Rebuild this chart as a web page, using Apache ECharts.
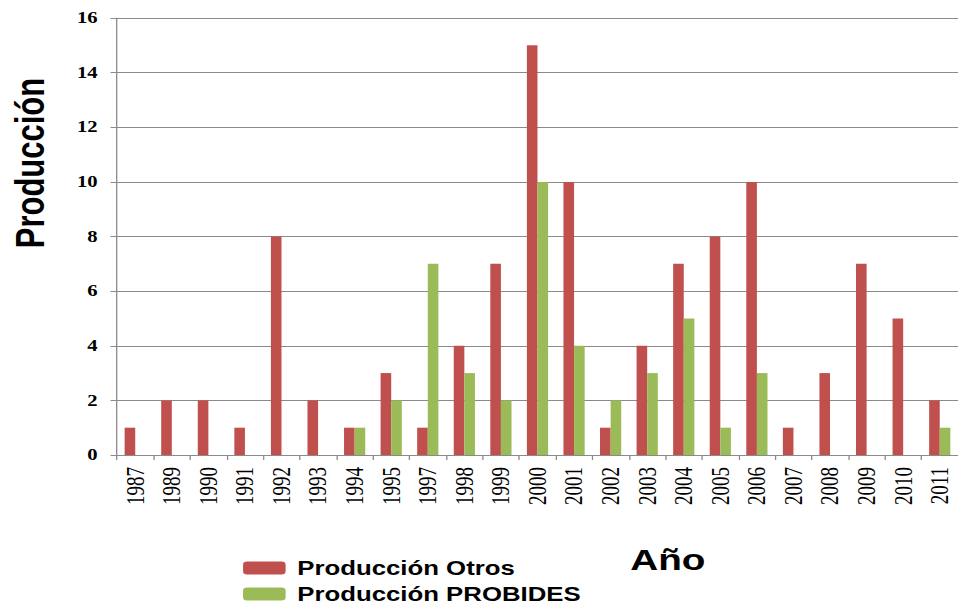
<!DOCTYPE html>
<html><head><meta charset="utf-8">
<script src="https://cdn.jsdelivr.net/npm/echarts@6/dist/echarts.min.js"></script>
<style>
html,body{margin:0;padding:0;background:#fff;overflow:hidden}
#wrap{width:958px;height:606px;overflow:hidden}
#c{width:743px;height:606px;transform:scaleX(1.2894);transform-origin:0 0}
</style></head><body><div id="wrap"><div id="c"></div></div>
<script>
const categories = ['1987','1989','1990','1991','1992','1993','1994','1995','1997','1998','1999','2000','2001','2002','2003','2004','2005','2006','2007','2008','2009','2010','2011'];
const otros    = [1,2,2,1,8,2,1,3,1,4,7,15,10,1,4,7,8,10,1,3,7,5,2];
const probides = [0,0,0,0,0,0,1,2,7,3,2,10,4,2,3,5,1,3,0,0,0,0,1];
const seriesNames = ['Producción Otros','Producción PROBIDES'];
const yMin = 0, yMax = 16, yStep = 2;

const chart = echarts.init(document.getElementById('c'), null, {renderer:'svg'});
const grey = '#8a8a8a';
chart.setOption({
  animation:false,
  backgroundColor:'#fff',
  grid:{left:90.7, top:18, width:654.6, height:437},
  legend:{
    data:seriesNames, orient:'vertical', left:188.5, top:558, width:300, height:120,
    itemWidth:33, itemHeight:13, itemGap:6, icon:'roundRect', padding:0,
    textStyle:{fontFamily:'Liberation Sans', fontWeight:'bold', fontSize:20, color:'#000', lineHeight:20, padding:[0,0,0,4]}
  },
  xAxis:{
    type:'category', data:categories,
    axisLine:{lineStyle:{color:grey}},
    axisTick:{show:true, interval:0, length:5, lineStyle:{color:grey}},
    axisLabel:{interval:0, rotate:90, margin:12, fontFamily:'Liberation Serif', fontSize:19, color:'#000'}
  },
  yAxis:{
    type:'value', min:yMin, max:yMax, interval:yStep,
    axisLine:{show:true, lineStyle:{color:grey}},
    axisTick:{show:true, length:5, lineStyle:{color:grey}},
    axisLabel:{margin:15, fontFamily:'Liberation Serif', fontWeight:'bold', fontSize:16, color:'#000'},
    splitLine:{lineStyle:{color:grey}}
  },
  graphic:[
    {type:'text', x:24, y:163, rotation:Math.PI/2,
     style:{text:'Producción', font:'bold 31px "Liberation Sans"', fill:'#000', textAlign:'center', textVerticalAlign:'middle'}},
    {type:'text', x:518, y:560,
     style:{text:'Año', font:'bold 30px "Liberation Sans"', fill:'#000', textAlign:'center', textVerticalAlign:'middle'}}
  ],
  series:[
    {name:seriesNames[0], type:'bar', data:otros, barGap:'0%', barCategoryGap:'42%', itemStyle:{color:'#C0504D'}},
    {name:seriesNames[1], type:'bar', data:probides, itemStyle:{color:'#9BBB59'}}
  ]
});
</script></body></html>
